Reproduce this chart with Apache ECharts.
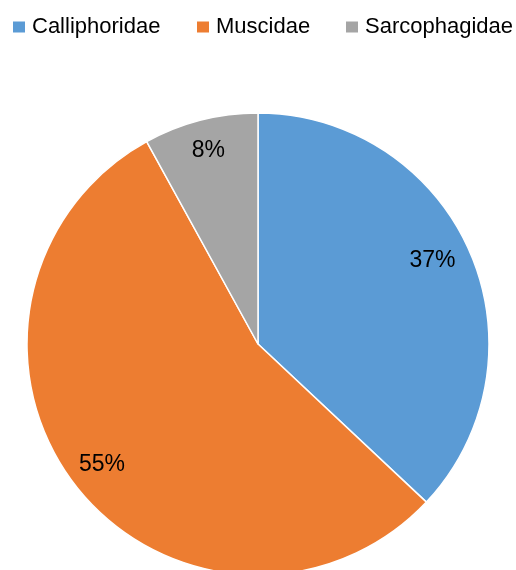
<!DOCTYPE html>
<html>
<head>
<meta charset="utf-8">
<script src="https://cdn.jsdelivr.net/npm/echarts@6/dist/echarts.min.js"></script>
<style>
  html, body { margin: 0; padding: 0; background: #fff; }
  #chart { width: 516px; height: 570px; }
</style>
</head>
<body>
<div id="chart"></div>
<script>
// Fly families and their share of specimens (%)
const families = ['Calliphoridae', 'Muscidae', 'Sarcophagidae'];
const shares = [37, 55, 8];
const colors = ['#5B9BD5', '#ED7D31', '#A5A5A5'];

const FONT = '"Liberation Sans", Arial, sans-serif';
const CENTER = [258, 344];
const R = 231;

const pieData = families.map((name, i) => ({
  name: name,
  value: shares[i],
  itemStyle: { color: colors[i] }
}));

// One legend per entry so each sits at its own fixed spot
const legendLefts = [11, 195, 344];
const legends = families.map((name, i) => ({
  data: [name],
  left: legendLefts[i],
  top: 16,
  orient: 'horizontal',
  icon: 'rect',
  itemWidth: 14,
  itemHeight: 13,
  itemGap: 0,
  padding: 0,
  selectedMode: false,
  textStyle: { fontFamily: FONT, fontSize: 22, color: '#000', padding: [0, 0, 0, 1] }
}));

// small nudges so the labels sit where the slices leave the most room
const labelNudges = [[-9, -4], [2, -2], [0, 0]];

const chart = echarts.init(document.getElementById('chart'), null, { renderer: 'canvas' });
chart.setOption({
  animation: false,
  backgroundColor: '#fff',
  legend: legends,
  series: [
    {
      // the filled slices
      type: 'pie',
      center: CENTER,
      radius: [0, R],
      startAngle: 90,
      clockwise: true,
      silent: true,
      label: { show: false },
      labelLine: { show: false },
      itemStyle: { borderColor: '#fff', borderWidth: 1.5 },
      data: pieData
    },
    {
      // transparent ring that carries the percentage labels near the rim
      type: 'pie',
      center: CENTER,
      radius: [163, R],
      startAngle: 90,
      clockwise: true,
      silent: true,
      legendHoverLink: false,
      itemStyle: { color: 'rgba(0,0,0,0)', borderWidth: 0 },
      label: {
        show: true,
        position: 'inside',
        formatter: p => p.value + '%',
        fontFamily: FONT,
        fontSize: 23,
        color: '#000'
      },
      labelLine: { show: false },
      data: families.map((name, i) => ({
        name: name + ' ',
        value: shares[i],
        label: { offset: labelNudges[i] }
      }))
    }
  ]
});
</script>
</body>
</html>
